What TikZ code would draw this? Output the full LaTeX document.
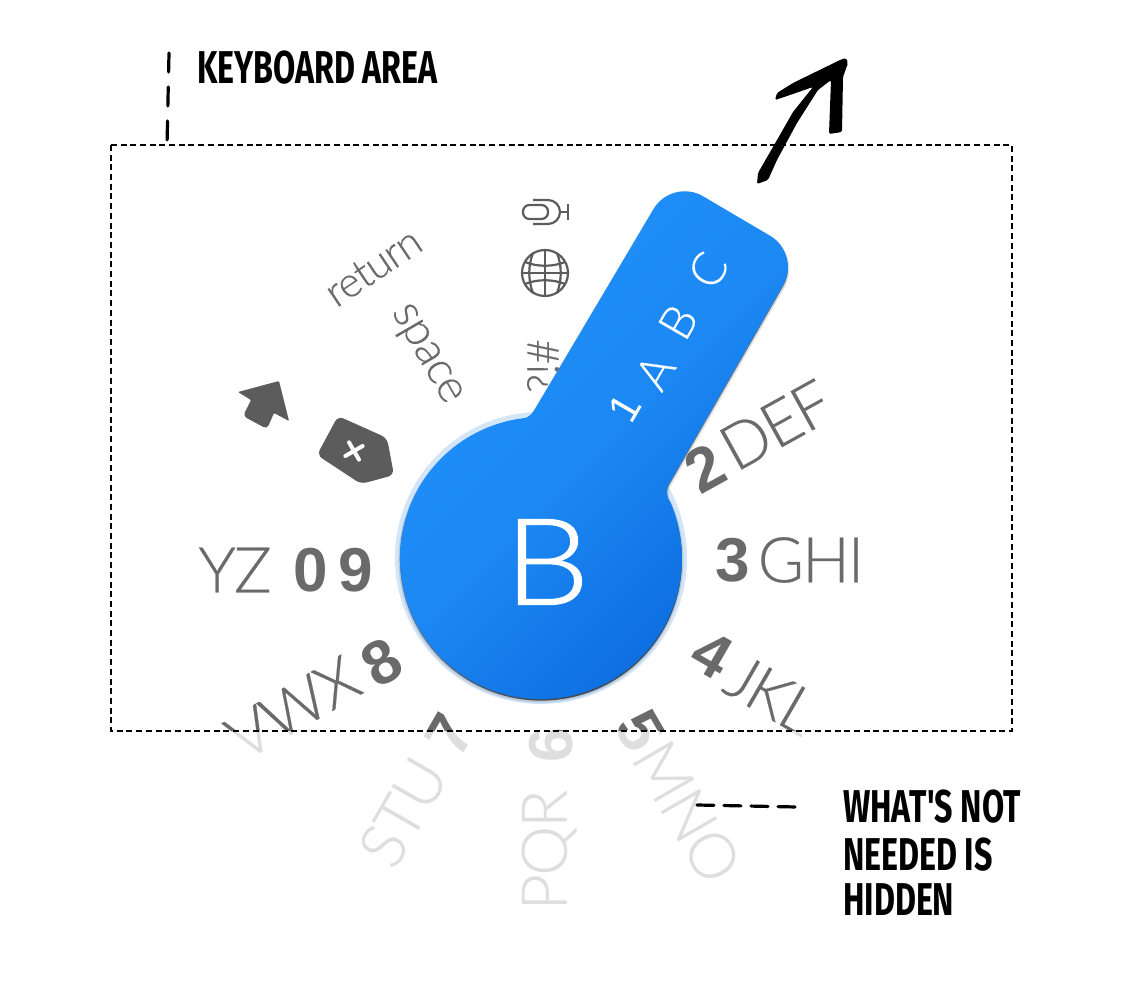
\documentclass[tikz,border=0pt]{standalone}
\usepackage{fontspec}
\setmainfont{Liberation Sans}
\newfontfamily\lightf{Lato}[UprightFont=* Light,BoldFont=* Light,LetterSpace=-3,FakeBold=0.35]
\newfontfamily\wordf{Lato}[UprightFont=* Light,BoldFont=* Light,LetterSpace=-2,FakeBold=0.3]
\newfontfamily\bigf{Lato}[UprightFont=* Light,BoldFont=* Light,FakeBold=1.1,FakeStretch=1.12]
\newfontfamily\boldf{Liberation Sans}[BoldFont=* Bold]
\newfontfamily\handf{Fira Sans}[UprightFont=* Medium,BoldFont=* Bold,FakeStretch=0.7]
\definecolor{keygray}{HTML}{6A6A6A}
\definecolor{keyfade}{HTML}{DEDEDE}
\definecolor{iconinner}{HTML}{5C5C5C}
\definecolor{blueA}{HTML}{2192FA}
\definecolor{blueM}{HTML}{1C88F3}
\definecolor{blueB}{HTML}{0A68DC}
\definecolor{halo}{HTML}{D3E6F9}
\tikzset{
  lkey/.style={inner sep=0pt,font=\lightf\fontsize{63}{63}\selectfont},
  dkey/.style={inner sep=0pt,font=\boldf\bfseries\fontsize{62}{62}\selectfont},
  wordkey/.style={inner sep=0pt,text=keygray,font=\wordf\fontsize{46}{46}\selectfont},
  handle/.style={inner sep=0pt,text=white,font=\wordf\fontsize{47}{47}\selectfont},
  note/.style={inner sep=0pt,text=black,anchor=west,font=\handf\bfseries\fontsize{46}{46}\selectfont},
  penline/.style={draw=black,line width=3.2pt,line cap=round},
  iconstroke/.style={draw=iconinner,line width=2.2pt},
}
\newcommand{\keysetup}[1]{%
  \node[lkey,text=#1,rotate=29] (def) at (776,425) {DEF};
  \node[dkey,text=#1,rotate=29] (two) at (705,468) {2};
  \node[lkey,text=#1] (ghi) at (811,560) {GHI};
  \node[dkey,text=#1] (three) at (733,560) {3};
  \node[lkey,text=#1,rotate=-30] (jkl) at (772,695) {JKL};
  \node[dkey,text=#1,rotate=-30] (four) at (712,655) {4};
  \node[lkey,text=#1,rotate=-60] (mno) at (687,812) {MNO};
  \node[dkey,text=#1,rotate=-60] (five) at (640,731) {5};
  \node[lkey,text=#1,rotate=90] (pqr) at (549,850) {PQR};
  \node[dkey,text=#1,rotate=90] (six) at (551,745) {6};
  \node[lkey,text=#1,rotate=60] (stu) at (403,812) {STU};
  \node[dkey,text=#1,rotate=60] (seven) at (450,735) {7};
  \node[lkey,text=#1,rotate=30] (vwx) at (293,708) {VWX};
  \node[dkey,text=#1,rotate=30] (eight) at (382,662) {8};
}
\newcommand{\blueshape}{(525,418) arc[start angle=96.5,end angle=382.8,radius=141pt]
  .. controls (667,497) and (665,491) .. (669,484)
  [rounded corners=36pt] -- (801,254) -- (672,178) [rounded corners=0pt] -- (535,409)
  .. controls (532,414) and (529,417) .. (525,418) -- cycle}
\begin{document}
\begin{tikzpicture}[x=1pt,y=-1pt]
\useasboundingbox (0,0) rectangle (1122,1000);
\fill[white] (0,0) rectangle (1122,1000);
% keys: dark inside the keyboard area, faded below it
\begin{scope}
  \clip (0,0) rectangle (1122,731.5);
  \keysetup{keygray}
\end{scope}
\begin{scope}
  \clip (0,731.5) rectangle (1122,1000);
  \keysetup{keyfade}
\end{scope}
\node[lkey,text=keygray] (yz) at (235,570) {YZ};
\node[dkey,text=keygray] (zero) at (311,570) {0};
\node[dkey,text=keygray] (nine) at (356,570) {9};
\node[wordkey,rotate=34,font=\wordf\fontsize{42}{42}\selectfont] (return) at (373,267) {return};
\node[wordkey,rotate=-60] (space) at (425,355) {space};
\node[wordkey,rotate=90,font=\wordf\fontsize{44}{44}\selectfont] (sym) at (543,366) {?!\#};
% globe
\begin{scope}[shift={(545,273)}]
  \draw[iconstroke] (0,0) circle[radius=23pt];
  \draw[iconstroke] (-23,0) -- (23,0) (0,-23) -- (0,23);
  \draw[iconstroke] (-20,-11) .. controls (-8,-6) and (8,-6) .. (20,-11);
  \draw[iconstroke] (-20,11) .. controls (-8,6) and (8,6) .. (20,11);
  \draw[iconstroke] (-12,-20) .. controls (-17,-7) and (-17,7) .. (-12,20);
  \draw[iconstroke] (12,-20) .. controls (17,-7) and (17,7) .. (12,20);
\end{scope}
% microphone
\begin{scope}[shift={(545,212)}]
  \draw[iconstroke,rounded corners=6.5pt] (3,-7) -- (-22,-7) -- (-22,7) -- (3,7) -- cycle;
  \draw[iconstroke] (-12,-12) -- (3,-12) arc[start angle=90,end angle=-90,radius=12pt] -- (-12,12);
  \draw[iconstroke] (15,0) -- (23,0) (23,-8) -- (23,8);
\end{scope}
% shift arrow
\fill[iconinner,rounded corners=1pt] (238,392) -- (279,381) -- (289,421) -- (274,413)
  [rounded corners=4pt] -- (267,429) -- (243,416) [rounded corners=1pt] -- (251,400) -- cycle;
% delete key
\fill[iconinner,rounded corners=6pt] (338,416) -- (387,438) -- (394,475) -- (361,484) -- (317,455) -- cycle;
\draw[white,line width=4pt,line cap=round,rotate around={30:(354,451)}] (344,451) -- (364,451) (354,441) -- (354,461);
% blue key
\fill[halo] (541,558) circle[radius=146pt];
\draw[black,opacity=.12,line width=3pt,shift={(0,2)}] \blueshape;
\fill[black,opacity=.45,shift={(0,1.5)}] \blueshape;
\fill[black,opacity=.35,shift={(1,2.5)}] (541,558) circle[radius=140pt];
\shade[top color=blueA,bottom color=blueB,middle color=blueM,shading angle=45] \blueshape;
\node[handle,font=\boldf\fontsize{42}{42}\selectfont,rotate=60] (one) at (625,408) {1};
\node[handle,rotate=60] (a) at (655,372) {A};
\node[handle,rotate=60] (b) at (678,322) {B};
\node[handle,rotate=60] (c) at (708,270) {C};
\node[inner sep=0pt,text=white,font=\bigf\fontsize{120}{120}\selectfont] (big) at (547,562) {B};
% keyboard area
\draw[black,line width=1.3pt,dash pattern=on 6pt off 3.7pt] (111,145) rectangle (1012,731);
\coordinate (kt) at (169,53);
\coordinate (kb) at (167,146);
\draw[penline,dash pattern=on 19pt off 15pt] (kt) -- (kb);
\node[note] (kbd) at (197,68) {KEYBOARD AREA};
\coordinate (hs) at (697,805);
\coordinate (he) at (797,807);
\draw[penline,dash pattern=on 17pt off 10pt] (hs) -- (he);
\node[note] (w1) at (843,807) {WHAT'S NOT};
\node[note] (w2) at (843,855) {NEEDED IS};
\node[note] (w3) at (843,900) {HIDDEN};
% big arrow
\fill[black,rounded corners=1.5pt] (757,184) -- (758,173) -- (777,140) -- (793,112) -- (813,87)
  -- (790,95) -- (775,100) -- (777,93) -- (793,83) -- (840,60) -- (846,58) -- (848,63) -- (843,77)
  -- (842,132) -- (829,134) -- (831,80) -- (818,90) -- (797,123) -- (777,160) -- (768,180) -- cycle;
\end{tikzpicture}
\end{document}
